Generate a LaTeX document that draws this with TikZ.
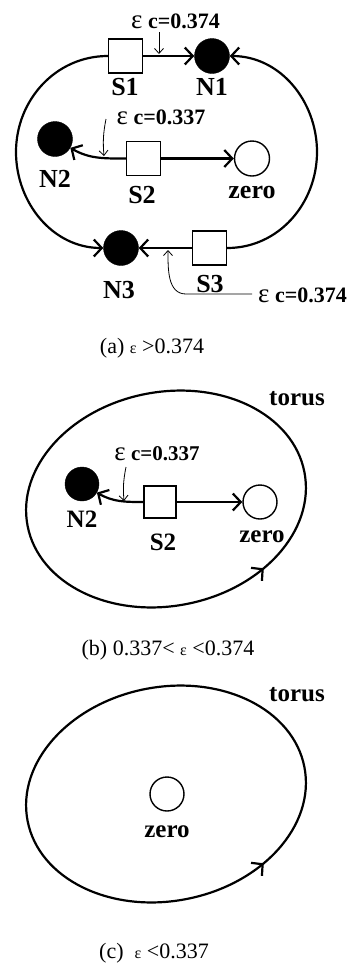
\documentclass[tikz,border=0pt]{standalone}
\usepackage{fontspec}
\setmainfont{Liberation Serif}
\usetikzlibrary{arrows.meta, positioning, decorations.markings}

\newcommand{\epsc}{{\mdseries\fontsize{27}{27}\selectfont ε}}
\newcommand{\epssmall}{{\fontsize{16}{16}\selectfont ε}}

\begin{document}
\begin{tikzpicture}[x=1pt, y=1pt,
    saddle/.style={rectangle, draw, line width=1.4pt, fill=white, minimum size=34pt, inner sep=0pt},
    sink/.style={circle, draw, fill=black, minimum size=35pt, inner sep=0pt},
    zeropt/.style={circle, draw, line width=1.4pt, fill=white, minimum size=35pt, inner sep=0pt},
    lab/.style={font=\fontsize{26}{26}\selectfont\bfseries, inner sep=0pt, anchor=base},
    labb/.style={font=\fontsize{25}{25}\selectfont\bfseries, inner sep=0pt, anchor=base},
    ann/.style={font=\fontsize{22}{22}\selectfont\bfseries, inner sep=0pt, anchor=base},
    captxt/.style={font=\fontsize{22}{22}\selectfont, inner sep=0pt, anchor=base},
    flow/.style={line width=2.2pt, -{Straight Barb[length=8pt, width=17pt]}},
    orbit/.style={line width=2.2pt, postaction={decorate, decoration={markings,
        mark=at position 0.86 with {\arrow{Straight Barb[length=8pt, width=17pt]}}}}},
    pointer/.style={line width=0.8pt, -{Straight Barb[length=5pt, width=9pt]}}
]
\useasboundingbox (0,0) rectangle (364,-967);

% (a) eps > 0.374
\node[saddle] (S1) at (125.5,-56) {};
\node[sink] (N1) at (212,-56) {};
\node[sink] (N2) at (55,-139) {};
\node[saddle] (S2) at (143.5,-158.5) {};
\node[zeropt] (Z1) at (252,-158.5) {};
\node[sink] (N3) at (121,-248) {};
\node[saddle] (S3) at (209.5,-248) {};
\coordinate (L) at (16,-152);
\coordinate (R) at (317,-152);

\draw[flow] (S1) -- (N1);
\draw[flow] (S1.west) to[out=180, in=90] (L) to[out=-90, in=180] (N3.west);
\draw[flow] (S3.east) to[out=0, in=-90] (R) to[out=90, in=0] (N1.east);
\draw[flow] (S3) -- (N3);
\draw[flow] (S2) -- (Z1);
\draw[flow] (S2.west) to[out=180, in=-30] (N2);

\node[lab] (S1lab) at (125,-95) {S1};
\node[lab] (N1lab) at (212,-95) {N1};
\node[lab] (N2lab) at (55,-187) {N2};
\node[lab] (S2lab) at (142,-203) {S2};
\node[lab] (Z1lab) at (252,-198) {zero};
\node[lab] (N3lab) at (119,-298) {N3};
\node[lab] (S3lab) at (210,-292) {S3};

% critical values
\node[ann] (ec1) at (175.5,-28) {\epsc\ c=0.374};
\coordinate (p1t) at (159,-32);
\coordinate (p1h) at (159,-54);
\draw[pointer] (p1t) -- (p1h);
\node[ann] (ec2) at (161,-124) {\epsc\ c=0.337};
\coordinate (p2t) at (106,-119);
\coordinate (p2h) at (104,-156);
\draw[pointer] (p2t) to[bend right=8] (p2h);
\node[ann, anchor=base west] (ec3) at (258,-302) {\epsc\ c=0.374};
\coordinate (p3t) at (252,-294);
\coordinate (p3c) at (186,-294);
\coordinate (p3h) at (168,-250);
\draw[pointer] (p3t) -- (p3c) to[out=180, in=-90] (p3h);

\node[captxt] (capa) at (152,-353) {(a) \epssmall\ >0.374};

% (b) 0.337 < eps < 0.374
\draw[orbit, rotate around={11:(166,-499)}] (166,-499) ellipse [x radius=141, y radius=107];
\node[sink, minimum size=34pt] (N2b) at (82,-484) {};
\node[saddle, minimum size=32pt] (S2b) at (160,-502) {};
\node[zeropt, minimum size=34pt] (Zb) at (260,-502) {};
\draw[flow] (S2b) -- (Zb);
\draw[flow] (S2b.west) to[out=180, in=-30] (N2b);

\node[labb] (N2blab) at (82,-527) {N2};
\node[labb] (S2blab) at (163,-550) {S2};
\node[labb] (Zblab) at (262,-542) {zero};
\node[labb] (torb) at (297,-405) {torus};
\node[ann, font=\fontsize{21}{21}\selectfont\bfseries] (ec4) at (157,-460) {\epsc\ c=0.337};
\coordinate (p4t) at (126,-467);
\coordinate (p4h) at (124,-501);
\draw[pointer] (p4t) to[bend right=8] (p4h);

\node[captxt] (capb) at (168,-655) {(b) 0.337< \epssmall\ <0.374};

% (c) eps < 0.337
\draw[orbit, rotate around={11:(166,-794)}] (166,-794) ellipse [x radius=141, y radius=107];
\node[zeropt, minimum size=34pt] (Zc) at (167,-794) {};
\node[labb] (Zclab) at (167,-837) {zero};
\node[labb] (torc) at (297,-701) {torus};

\node[captxt] (capc) at (154,-958) {(c)\ \ \epssmall\ <0.337};

\end{tikzpicture}
\end{document}
